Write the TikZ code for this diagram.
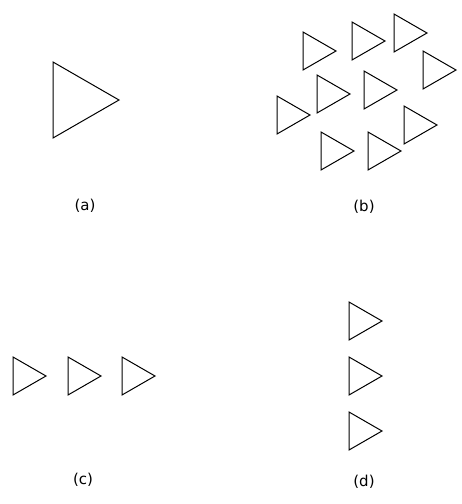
\documentclass[tikz,border=0pt]{standalone}
\usepackage{fontspec}
\setsansfont{DejaVu Sans}
\usepackage{tikz}
\tikzset{
  triline/.style={draw=black,line width=1pt,line join=miter},
  caption/.style={font=\sffamily\fontsize{15}{15}\selectfont,inner sep=0pt}
}

\begin{document}
\begin{tikzpicture}[x=1pt,y=-1pt,
  tri/.pic={\draw[triline] (0,0) -- (0,38) -- (33,19) -- cycle;}]
\useasboundingbox (0,0) rectangle (462,504);
% (a) one large
\pic[scale=2] at (53,62) {tri};
\node[caption] (la) at (85,206) {(a)};
% (b) scattered
\pic at (303,32) {tri};
\pic at (352,22) {tri};
\pic at (394,14) {tri};
\pic at (423,51) {tri};
\pic at (317,75) {tri};
\pic at (364,71) {tri};
\pic at (277,96) {tri};
\pic at (404,106) {tri};
\pic at (321,132) {tri};
\pic at (368,132) {tri};
\node[caption] (lb) at (364,207) {(b)};
% (c) row
\pic at (13,357) {tri};
\pic at (68,357) {tri};
\pic at (122,357) {tri};
\node[caption] (lc) at (83,480) {(c)};
% (d) column
\pic at (349,302) {tri};
\pic at (349,357) {tri};
\pic at (349,412) {tri};
\node[caption] (ld) at (364,482) {(d)};
\end{tikzpicture}
\end{document}
